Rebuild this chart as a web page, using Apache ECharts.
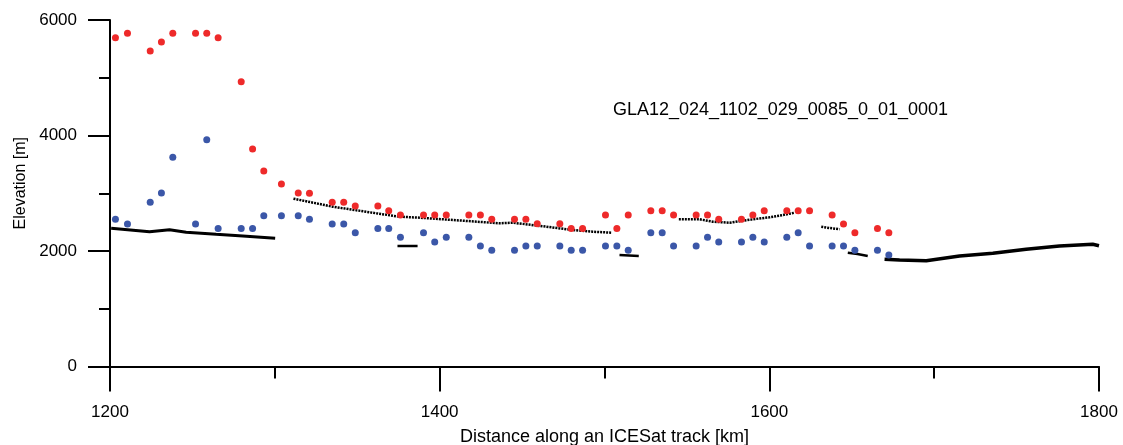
<!DOCTYPE html>
<html>
<head>
<meta charset="utf-8">
<script src="https://cdn.jsdelivr.net/npm/echarts@6/dist/echarts.min.js"></script>
<style>
  html, body { margin: 0; padding: 0; background: #ffffff; }
  #chart { width: 1123px; height: 445px; }
</style>
</head>
<body>
<div id="chart"></div>
<script>
// ---- Data (km along track, elevation m) ----
const redPoints = [
  [1203.3,5694],[1210.6,5770],[1224.4,5463],[1231.2,5619],[1238.1,5770],[1251.9,5770],[1258.7,5770],[1265.6,5694],
  [1279.6,4932],[1286.5,3766],[1293.3,3385],[1304.0,3160],[1314.2,3006],[1321.0,3000],[1334.8,2843],[1341.8,2843],
  [1348.8,2779],[1362.5,2779],[1369.1,2698],[1376.2,2622],[1390.2,2622],[1397.0,2622],[1404.0,2622],[1417.7,2622],
  [1424.7,2622],[1431.6,2549],[1445.4,2549],[1452.3,2549],[1459.2,2473],[1472.9,2473],[1479.8,2390],[1486.7,2390],
  [1500.6,2622],[1507.5,2390],[1514.4,2622],[1528.1,2698],[1535.0,2698],[1541.9,2622],[1555.6,2622],[1562.5,2622],
  [1569.3,2549],[1583.1,2549],[1590.0,2622],[1596.9,2698],[1610.6,2698],[1617.5,2698],[1624.4,2698],[1638.1,2622],
  [1645.0,2468],[1651.9,2317],[1665.6,2390],[1672.5,2317]
];
const bluePoints = [
  [1203.3,2549],[1210.6,2468],[1224.4,2843],[1231.2,3006],[1238.1,3623],[1251.9,2468],[1258.7,3927],[1265.6,2390],
  [1279.6,2390],[1286.5,2390],[1293.3,2611],[1304.0,2611],[1314.2,2611],[1321.0,2549],[1334.8,2468],[1341.8,2468],
  [1348.8,2317],[1362.5,2390],[1369.1,2390],[1376.2,2237],[1390.2,2317],[1397.0,2156],[1404.0,2237],[1417.7,2237],
  [1424.7,2088],[1431.6,2014],[1445.4,2014],[1452.3,2088],[1459.2,2088],[1472.9,2088],[1479.8,2014],[1486.7,2014],
  [1500.6,2088],[1507.5,2088],[1514.4,2014],[1528.1,2317],[1535.0,2317],[1541.9,2088],[1555.6,2088],[1562.5,2237],
  [1569.3,2156],[1583.1,2156],[1590.0,2237],[1596.9,2156],[1610.6,2237],[1617.5,2317],[1624.4,2088],[1638.1,2088],
  [1645.0,2088],[1651.9,2014],[1665.6,2014],[1672.5,1931]
];
// ICESat track segments (black)
const track1 = [[1200.7,2393],[1224.0,2334],[1236.1,2369],[1246.2,2324],[1264.4,2289],[1280.6,2260],[1300.2,2220]];
const track2 = [[1311.3,2906],[1335.2,2767],[1361.5,2653],[1375.6,2594],[1387.8,2577],[1408.0,2537],[1436.3,2480],
                [1444.4,2490],[1464.6,2421],[1480.8,2364],[1492.9,2334],[1504.1,2317]];
const track3 = [[1374.4,2087],[1386.6,2087]];
const track4 = [[1509.1,1931],[1520.8,1914]];
const track5 = [[1545.1,2549],[1557.7,2549],[1565.7,2507],[1575.9,2490],[1590.0,2549],[1600.1,2584],[1608.2,2623],[1615.3,2663]];
const track6 = [[1631.5,2421],[1636.5,2398],[1642.6,2376]];
const track7 = [[1647.6,1971],[1653.5,1948],[1659.7,1914]];
const track8 = [[1669.9,1856],[1679.0,1844],[1695.2,1832],[1715.4,1913],[1735.6,1960],[1755.8,2029],[1776.0,2087],[1796.2,2116],[1800.0,2090]];

const xTicks = { min: 1200, max: 1800, interval: 200 };
const yTicks = { min: 0, max: 6000, interval: 2000 };
const trackLabel = 'GLA12_024_1102_029_0085_0_01_0001';

const FONT = '"Liberation Sans", Arial, sans-serif';

function trackSeries(data, width, dashed) {
  return {
    type: 'line', data: data, showSymbol: false, symbol: 'none', silent: true,
    lineStyle: { color: '#000', width: width, type: dashed ? [2, 1] : 'solid', opacity: 1 },
    z: 2, animation: false
  };
}

const chart = echarts.init(document.getElementById('chart'), null, { renderer: 'canvas' });
chart.setOption({
  animation: false,
  backgroundColor: '#ffffff',
  title: {
    text: trackLabel, left: 608, top: 96,
    textStyle: { fontFamily: FONT, fontSize: 18, fontWeight: 'normal', color: '#000' }
  },
  grid: { left: 110, right: 24, top: 20, bottom: 78.5, containLabel: false, outerBoundsMode: 'none' },
  xAxis: {
    type: 'value', min: xTicks.min, max: xTicks.max, interval: xTicks.interval,
    name: 'Distance along an ICESat track [km]', nameLocation: 'middle', nameGap: 62,
    nameTextStyle: { fontFamily: FONT, fontSize: 18, color: '#000' },
    axisLine: { show: true, onZero: false, lineStyle: { color: '#000', width: 2 } },
    axisTick: { show: true, inside: false, length: 25, lineStyle: { color: '#000', width: 2 } },
    minorTick: { show: true, splitNumber: 2, length: 12, lineStyle: { color: '#000', width: 2 } },
    axisLabel: { fontFamily: FONT, fontSize: 17, color: '#000', margin: 37, formatter: v => String(v) },
    splitLine: { show: false }
  },
  yAxis: {
    type: 'value', min: yTicks.min, max: yTicks.max, interval: yTicks.interval,
    name: 'Elevation [m]', nameLocation: 'middle', nameGap: 80, nameRotate: 90,
    nameTextStyle: { fontFamily: FONT, fontSize: 16, color: '#000', padding: [0, 0, 0, 20] },
    axisLine: { show: true, onZero: false, lineStyle: { color: '#000', width: 2 } },
    axisTick: { show: true, inside: false, length: 22, lineStyle: { color: '#000', width: 2 } },
    minorTick: { show: true, splitNumber: 2, length: 11, lineStyle: { color: '#000', width: 2 } },
    axisLabel: { fontFamily: FONT, fontSize: 17, color: '#000', margin: 33, formatter: v => String(v) },
    splitLine: { show: false }
  },
  series: [
    trackSeries(track1, 3, false),
    trackSeries(track2, 2.5, true),
    trackSeries(track3, 2.5, false),
    trackSeries(track4, 2.5, false),
    trackSeries(track5, 2.5, true),
    trackSeries(track6, 2.5, true),
    trackSeries(track7, 2.5, false),
    trackSeries(track8, 3.5, false),
    {
      type: 'scatter', data: redPoints, symbol: 'circle', symbolSize: 7,
      itemStyle: { color: '#ee2a2a', opacity: 1 }, z: 3
    },
    {
      type: 'scatter', data: bluePoints, symbol: 'circle', symbolSize: 7,
      itemStyle: { color: '#3b57a8', opacity: 1 }, z: 3
    }
  ]
});
</script>
</body>
</html>
